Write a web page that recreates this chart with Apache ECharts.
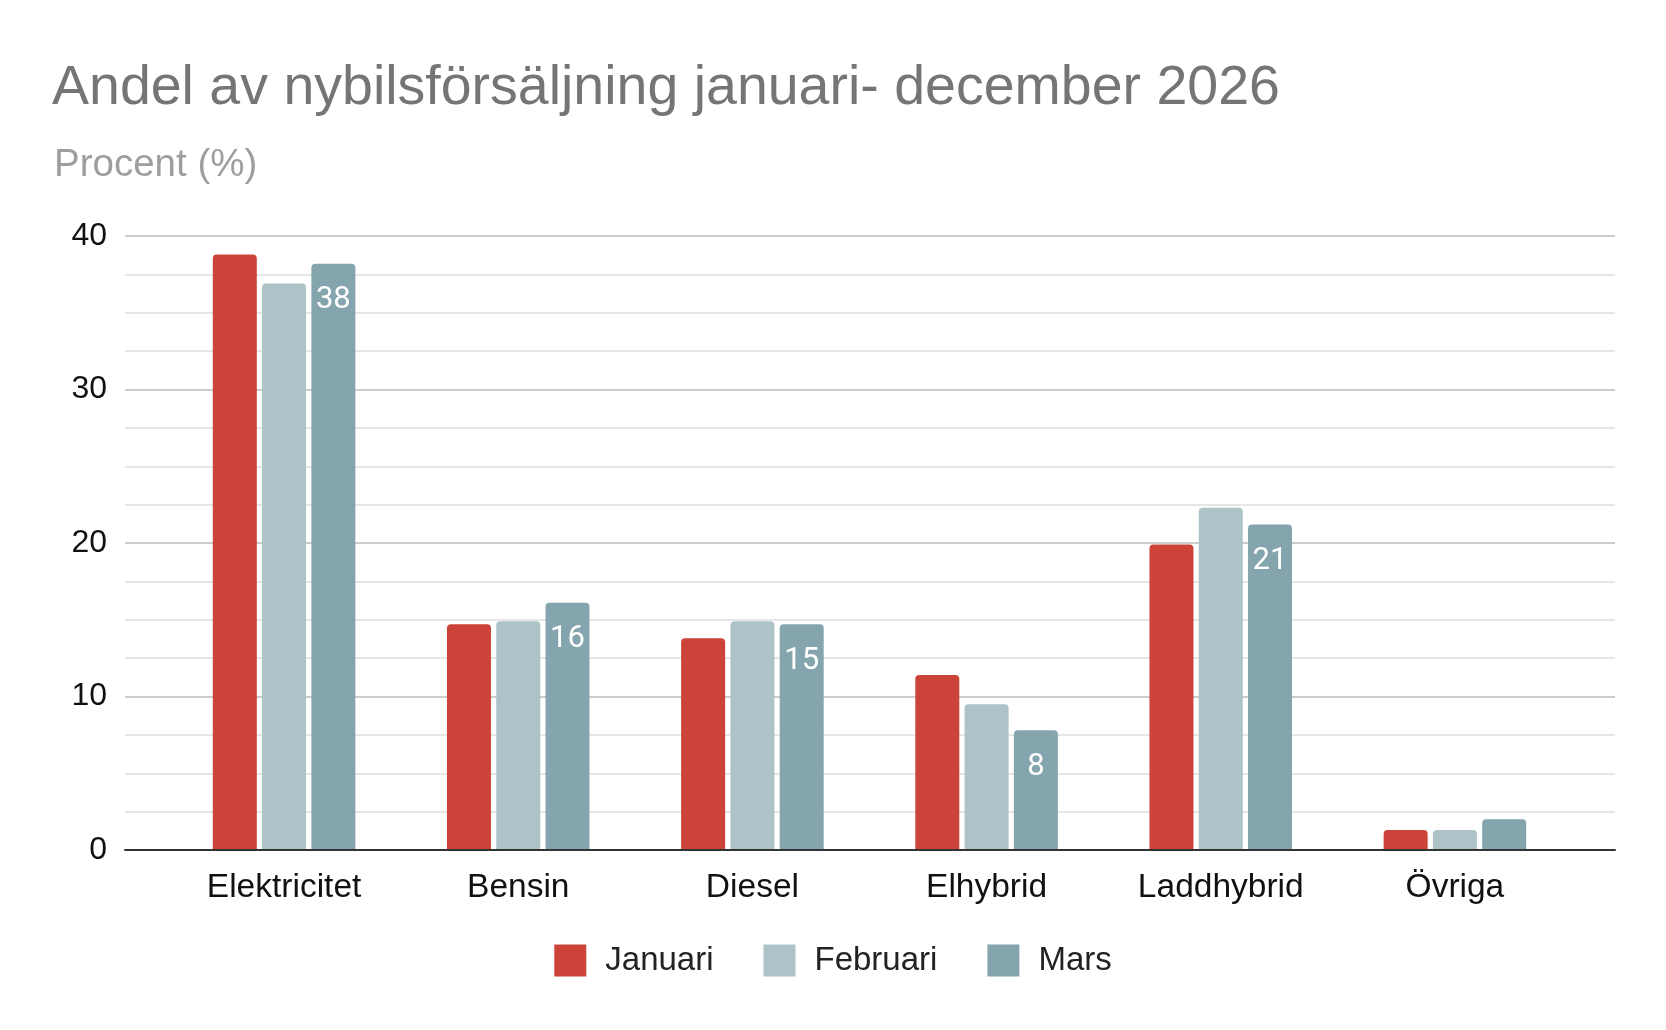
<!DOCTYPE html>
<html>
<head>
<meta charset="utf-8">
<script src="https://cdn.jsdelivr.net/npm/echarts@6/dist/echarts.min.js"></script>
<style>
html,body{margin:0;padding:0;background:#fff;}
#chart{width:1666px;height:1030px;}
</style>
</head>
<body>
<div id="chart"></div>
<script>
var categories = ['Elektricitet', 'Bensin', 'Diesel', 'Elhybrid', 'Laddhybrid', 'Övriga'];
var januari = [38.8, 14.7, 13.8, 11.4, 19.9, 1.3];
var februari = [36.9, 14.9, 14.9, 9.5, 22.3, 1.3];
var mars = [38.2, 16.1, 14.7, 7.8, 21.2, 2.0];
var seriesNames = ['Januari', 'Februari', 'Mars'];
var yTicks = [0, 10, 20, 30, 40];

var chart = echarts.init(document.getElementById('chart'), null, {renderer: 'canvas'});
var font = '"Liberation Sans", Arial, sans-serif';
var yMin = yTicks[0], yMax = yTicks[yTicks.length - 1], yStep = yTicks[1] - yTicks[0];

var marsData = mars.map(function (v, i) {
  return {value: v, label: {show: v > 4}};
});

var option = {
  backgroundColor: '#ffffff',
  textStyle: {fontFamily: font},
  title: [
    {text: 'Andel av nybilsförsäljning januari- december 2026', left: 47, top: 56,
     textStyle: {fontFamily: font, fontSize: 55.5, fontWeight: 'normal', color: '#757575'}},
    {text: 'Procent (%)', left: 49, top: 141,
     textStyle: {fontFamily: font, fontSize: 38.5, fontWeight: 'normal', color: '#9e9e9e'}}
  ],
  legend: {
    data: seriesNames,
    bottom: 48,
    left: 'center',
    itemWidth: 32,
    itemHeight: 32,
    itemGap: 50,
    icon: 'rect',
    itemStyle: {borderRadius: 2},
    textStyle: {fontFamily: font, fontSize: 33, color: '#222', padding: [0, 0, 0, 14]}
  },
  grid: [
    {left: 125, right: 51, top: 236, bottom: 180, containLabel: false},
    {left: 167, right: 94, top: 236, bottom: 180, containLabel: false}
  ],
  xAxis: [
    {type: 'category', gridIndex: 0, data: categories, axisLine: {show: true, lineStyle: {color: '#333', width: 2}},
     axisTick: {show: false}, axisLabel: {show: false}, splitLine: {show: false}, z: 10},
    {type: 'category', gridIndex: 1, data: categories, axisLine: {show: false},
     axisTick: {show: false}, axisLabel: {fontFamily: font, fontSize: 33.5, color: '#111', margin: 21}}
  ],
  yAxis: [
    {type: 'value', gridIndex: 0, min: yMin, max: yMax, interval: yStep,
     axisLine: {show: false}, axisTick: {show: false},
     axisLabel: {fontFamily: font, fontSize: 32, color: '#111', margin: 18, padding: [5, 0, 0, 0]},
     splitLine: {show: true, lineStyle: {color: '#cccccc', width: 2}},
     minorTick: {show: false, splitNumber: 4},
     minorSplitLine: {show: true, lineStyle: {color: '#e6e6e6', width: 2}}},
    {type: 'value', gridIndex: 1, min: yMin, max: yMax, interval: yStep, show: false,
     splitLine: {show: false}}
  ],
  series: [
    {name: seriesNames[0], type: 'bar', xAxisIndex: 1, yAxisIndex: 1, data: januari,
     barWidth: 44, barGap: '12%', itemStyle: {color: '#cc4439', borderRadius: [4, 4, 0, 0]}},
    {name: seriesNames[1], type: 'bar', xAxisIndex: 1, yAxisIndex: 1, data: februari,
     barWidth: 44, barGap: '12%', itemStyle: {color: '#adc3c8', borderRadius: [4, 4, 0, 0]}},
    {name: seriesNames[2], type: 'bar', xAxisIndex: 1, yAxisIndex: 1, data: marsData,
     barWidth: 44, barGap: '12%', itemStyle: {color: '#84a5ad', borderRadius: [4, 4, 0, 0]},
     label: {show: true, position: 'insideTop', distance: 21, color: '#ffffff',
       fontFamily: 'Roboto, sans-serif', fontSize: 31,
       formatter: function (p) { return Math.round(p.value); }}}
  ]
};
chart.setOption(option);
</script>
</body>
</html>
